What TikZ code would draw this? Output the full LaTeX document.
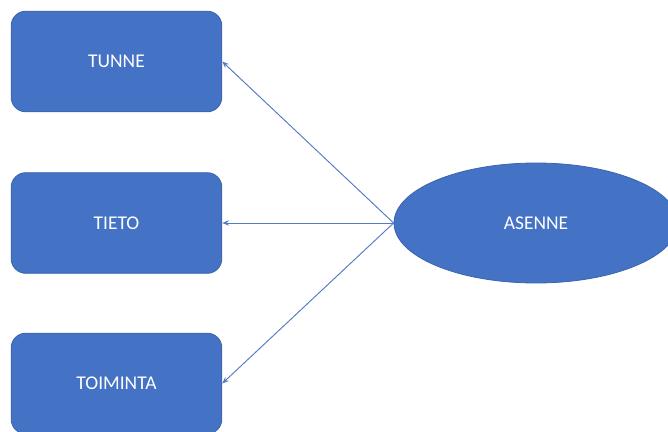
\documentclass[tikz,border=0pt]{standalone}
\usepackage{fontspec}
\setmainfont{Carlito}
\usetikzlibrary{shapes.geometric,arrows.meta}
\definecolor{officeblue}{HTML}{4472C4}
\definecolor{officeedge}{HTML}{3A64AF}
\definecolor{linkblue}{HTML}{5579C4}
\tikzset{
  box/.style={draw=officeedge, line width=0.6pt, fill=officeblue, rounded corners=11pt,
    minimum width=158pt, minimum height=75.5pt, inner sep=0pt,
    text=white, font=\fontsize{14.6}{16}\selectfont},
  oval/.style={ellipse, draw=officeedge, line width=0.6pt, fill=officeblue,
    minimum width=213pt, minimum height=90pt, inner sep=0pt,
    text=white, font=\fontsize{14.6}{16}\selectfont},
  link/.style={draw=linkblue, line width=0.7pt, -{Stealth[length=5pt,width=4pt]}}
}
\begin{document}
\begin{tikzpicture}[x=0.75pt,y=-0.75pt]
\useasboundingbox (0,0) rectangle (668,432);
\fill[white] (0,0) rectangle (668,432);
\clip (0,0) rectangle (668,432);
\node[box] (tunne) at (116.5,61.5) {TUNNE};
\node[box] (tieto) at (116.5,223) {TIETO};
\node[box] (toiminta) at (116.5,383.5) {TOIMINTA};
\node[oval] (asenne) at (536,223) {ASENNE};
\draw[link] (asenne.west) -- (tunne.east);
\draw[link] (asenne.west) -- (tieto.east);
\draw[link] (asenne.west) -- (toiminta.east);
\end{tikzpicture}
\end{document}
